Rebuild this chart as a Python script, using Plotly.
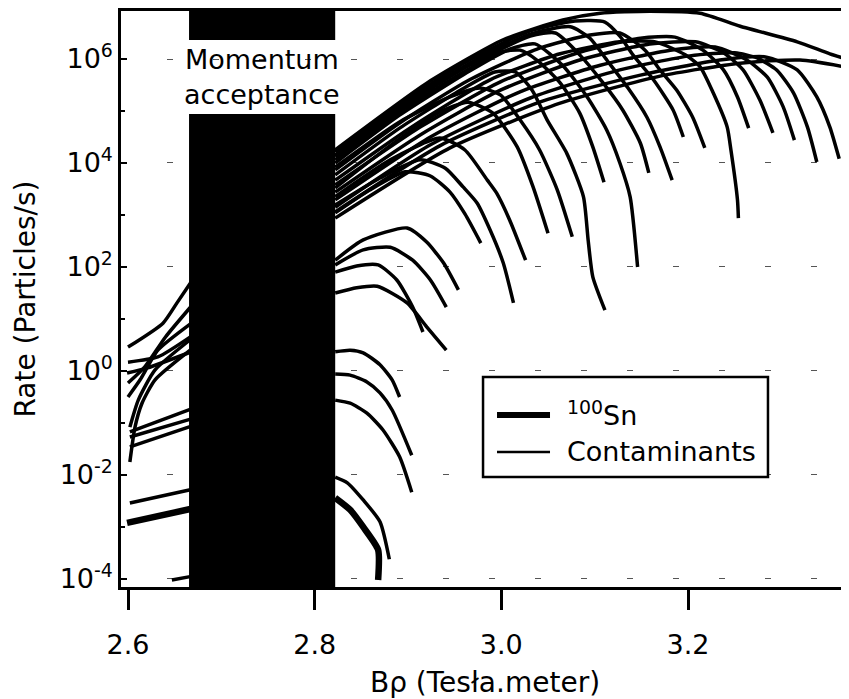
import plotly.graph_objects as go

# B-rho (T) and log10 of the rate (particles/s)

# 100Sn (thick), the part left of the acceptance window and the part right of it
sn_left_x = [2.599, 2.668]
sn_left_lograte = [-2.92, -2.65]
sn_right_x = [2.822, 2.838, 2.852, 2.868, 2.868]
sn_right_lograte = [-2.44, -2.67, -3.00, -3.44, -4.02]

# contaminants, short pieces left of the window
left_x = [
    [2.600, 2.6375, 2.6525, 2.668],
    [2.600, 2.632, 2.668],
    [2.599, 2.621, 2.668],
    [2.600, 2.618, 2.640, 2.668],
    [2.600, 2.613, 2.632, 2.668],
    [2.602, 2.611, 2.629, 2.668],
    [2.602, 2.6075, 2.615, 2.629, 2.668],
    [2.602, 2.668],
    [2.602, 2.668],
    [2.602, 2.668],
    [2.602, 2.668],
    [2.647, 2.668],
]
left_lograte = [
    [0.46, 0.92, 1.31, 1.72],
    [0.17, 0.27, 0.67],
    [-0.04, 0.06, 0.37],
    [-0.23, 0.08, 0.65, 1.25],
    [-0.50, -0.17, 0.40, 0.92],
    [-1.08, -0.56, 0.02, 0.62],
    [-1.75, -1.08, -0.62, -0.17, 0.42],
    [-1.17, -0.73],
    [-1.27, -0.92],
    [-1.46, -1.06],
    [-2.54, -2.28],
    [-4.02, -3.95],
]

# contaminants right of the window
right_x = [
    [2.822, 2.838, 2.852, 2.870, 2.883, 2.891],
    [2.822, 2.838, 2.856, 2.870, 2.883, 2.904],
    [2.822, 2.838, 2.856, 2.873, 2.891, 2.904],
    [2.822, 2.835, 2.852, 2.870, 2.880],
    [2.822, 2.845, 2.867, 2.899, 2.920, 2.941],
    [2.822, 2.845, 2.868, 2.888, 2.905, 2.916],
    [2.822, 2.852, 2.881, 2.905, 2.924, 2.941],
    [2.822, 2.852, 2.899, 2.920, 2.938, 2.954],
    [2.822, 2.859, 2.897, 2.924, 2.945, 2.961, 2.978],
    [2.822, 2.870, 2.913, 2.940, 2.959, 2.974, 2.988, 3.002, 3.013],
    [2.822, 2.881, 2.934, 2.961, 2.985, 2.995, 3.009, 3.026],
    [2.822, 2.886, 2.934, 2.964, 2.991, 3.017, 3.034, 3.050],
    [2.822, 2.891, 2.945, 2.977, 2.999, 3.020, 3.041, 3.060, 3.076],
    [2.822, 2.891, 2.956, 2.999, 3.020, 3.038, 3.063, 3.084, 3.098, 3.110],
    [2.822, 2.891, 2.956, 2.993, 3.015, 3.033, 3.049, 3.070, 3.088, 3.093, 3.098, 3.111],
    [2.822, 2.891, 2.966, 3.009, 3.036, 3.066, 3.092, 3.113, 3.127, 3.138, 3.146],
    [2.822, 2.891, 2.966, 3.031, 3.058, 3.084, 3.109, 3.130, 3.149, 3.158],
    [2.822, 2.891, 2.966, 3.031, 3.074, 3.095, 3.113, 3.135, 3.156, 3.170, 3.183],
    [2.822, 2.891, 2.966, 3.031, 3.079, 3.111, 3.127, 3.141, 3.163, 3.184, 3.195],
    [2.822, 2.924, 3.002, 3.066, 3.106, 3.159, 3.213, 3.256, 3.317, 3.352, 3.380],
    [2.822, 2.891, 2.966, 3.041, 3.095, 3.127, 3.154, 3.170, 3.188, 3.205, 3.218],
    [2.822, 2.902, 2.988, 3.063, 3.127, 3.165, 3.197, 3.213, 3.227, 3.242, 3.246, 3.253, 3.254],
    [2.822, 2.913, 2.999, 3.084, 3.149, 3.186, 3.216, 3.238, 3.253, 3.265],
    [2.822, 2.913, 2.999, 3.084, 3.159, 3.208, 3.238, 3.259, 3.277, 3.291],
    [2.822, 2.924, 3.020, 3.106, 3.181, 3.229, 3.263, 3.285, 3.302, 3.314],
    [2.822, 2.924, 3.031, 3.127, 3.202, 3.250, 3.274, 3.295, 3.313, 3.328, 3.338],
    [2.822, 2.934, 3.041, 3.149, 3.234, 3.283, 3.317, 3.338, 3.352, 3.362],
    [2.822, 2.945, 3.063, 3.170, 3.256, 3.320, 3.380],
]
right_lograte = [
    [0.37, 0.40, 0.35, 0.12, -0.17, -0.50],
    [-0.06, -0.08, -0.21, -0.42, -0.75, -1.62],
    [-0.56, -0.62, -0.81, -1.13, -1.65, -2.33],
    [-2.04, -2.15, -2.48, -2.90, -3.62],
    [1.50, 1.60, 1.63, 1.31, 0.85, 0.40],
    [1.90, 2.02, 2.04, 1.75, 1.23, 0.75],
    [2.04, 2.33, 2.38, 2.13, 1.75, 1.23],
    [2.13, 2.52, 2.75, 2.48, 2.08, 1.56],
    [3.04, 3.48, 3.83, 3.75, 3.44, 3.02, 2.46],
    [3.19, 3.71, 4.06, 3.90, 3.54, 3.23, 2.71, 2.08, 1.31],
    [3.35, 4.06, 4.48, 4.25, 3.67, 3.42, 2.90, 2.13],
    [3.52, 4.40, 4.98, 5.17, 4.96, 4.31, 3.54, 2.65],
    [3.92, 4.79, 5.27, 5.44, 5.31, 4.83, 4.25, 3.48, 2.58],
    [4.06, 4.98, 5.71, 6.13, 6.17, 5.98, 5.54, 4.96, 4.31, 3.63],
    [3.77, 4.67, 5.40, 5.75, 5.75, 5.40, 4.83, 4.19, 3.35, 2.52, 1.81, 1.17],
    [4.00, 4.92, 5.77, 6.19, 6.29, 5.87, 5.27, 4.63, 4.00, 3.35, 2.00],
    [4.12, 5.04, 5.88, 6.44, 6.50, 6.08, 5.54, 5.02, 4.38, 3.81],
    [4.15, 5.08, 5.92, 6.48, 6.62, 6.40, 5.98, 5.46, 4.88, 4.31, 3.67],
    [4.21, 5.13, 5.98, 6.54, 6.73, 6.71, 6.44, 6.08, 5.60, 5.02, 4.50],
    [4.25, 5.58, 6.37, 6.75, 6.88, 6.92, 6.88, 6.63, 6.33, 6.10, 5.94],
    [3.87, 4.77, 5.60, 6.21, 6.46, 6.50, 6.17, 5.79, 5.40, 4.88, 4.29],
    [3.67, 4.67, 5.60, 6.10, 6.33, 6.33, 6.08, 5.85, 5.35, 4.69, 4.25, 3.29, 2.94],
    [3.58, 4.69, 5.56, 6.13, 6.40, 6.42, 6.17, 5.79, 5.27, 4.67],
    [3.44, 4.54, 5.40, 5.98, 6.29, 6.33, 6.12, 5.79, 5.21, 4.58],
    [3.29, 4.50, 5.37, 5.88, 6.17, 6.23, 5.98, 5.65, 5.08, 4.44],
    [3.15, 4.35, 5.25, 5.79, 6.06, 6.12, 6.02, 5.79, 5.35, 4.69, 4.02],
    [3.06, 4.33, 5.17, 5.69, 5.98, 6.04, 5.79, 5.27, 4.69, 4.08],
    [2.94, 4.29, 5.15, 5.67, 5.92, 5.98, 5.81],
]

# momentum acceptance window (T) and the gap kept for its label (log10 rate)
window_x = [2.6654, 2.822]
label_gap = [4.94, 6.365]

decades = [-4, -2, 0, 2, 4, 6]
decade_labels = ['10<sup>%d</sup>' % d for d in decades]
odd_decades = [-3, -1, 1, 3, 5]

FONT = 'DejaVu Sans'
thin = dict(color='black', width=3.5, shape='spline', smoothing=0.6)
thick = dict(color='black', width=6.5, shape='spline', smoothing=0.6)

fig = go.Figure()

for xs, ys in zip(left_x + right_x, left_lograte + right_lograte):
    fig.add_trace(go.Scatter(x=xs, y=ys, mode='lines', line=thin,
                             name='Contaminants', showlegend=False,
                             hoverinfo='skip'))

for xs, ys in [(sn_left_x, sn_left_lograte), (sn_right_x, sn_right_lograte)]:
    fig.add_trace(go.Scatter(x=xs, y=ys, mode='lines', line=thick,
                             name='100Sn', showlegend=False,
                             hoverinfo='skip'))

# black acceptance band, with a white gap for the text
fig.add_shape(type='rect', xref='x', yref='y', x0=window_x[0], x1=window_x[1],
              y0=-4.154, y1=label_gap[0], fillcolor='black', line_width=0, layer='above')
fig.add_shape(type='rect', xref='x', yref='y', x0=window_x[0], x1=window_x[1],
              y0=label_gap[1], y1=6.923, fillcolor='black', line_width=0, layer='above')
fig.add_annotation(x=sum(window_x) / 2, y=sum(label_gap) / 2, xref='x', yref='y',
                   text='Momentum<br>acceptance', showarrow=False,
                   font=dict(family=FONT, size=27, color='black'))

# legend box
fig.add_shape(type='rect', xref='paper', yref='paper', x0=0.4973, x1=0.8887,
              y0=0.191, y1=0.3646, line=dict(color='black', width=2.5),
              fillcolor='white', layer='above')
fig.add_shape(type='line', xref='paper', yref='paper', x0=0.5165, x1=0.5893,
              y0=0.2986, y1=0.2986, line=dict(color='black', width=6), layer='above')
fig.add_shape(type='line', xref='paper', yref='paper', x0=0.5165, x1=0.5893,
              y0=0.2344, y1=0.2344, line=dict(color='black', width=2.5), layer='above')
fig.add_annotation(x=0.6099, y=0.302, xref='paper', yref='paper', xanchor='left',
                   yanchor='middle', text='<sup>100</sup>Sn', showarrow=False,
                   font=dict(family=FONT, size=27, color='black'))
fig.add_annotation(x=0.6099, y=0.2344, xref='paper', yref='paper', xanchor='left',
                   yanchor='middle', text='Contaminants', showarrow=False,
                   font=dict(family=FONT, size=27, color='black'))

# page keeps an 8px body margin, so the figure is shrunk by that much
fig.update_layout(
    width=841, height=691,
    margin=dict(l=113, r=0, t=3, b=112),
    plot_bgcolor='white', paper_bgcolor='white',
    font=dict(family=FONT, size=27, color='black'),
    showlegend=False,
)
fig.update_xaxes(
    range=[2.5925, 3.3725],
    tickvals=[2.6, 2.8, 3.0, 3.2], tickformat='.1f',
    ticks='outside', ticklen=20, tickwidth=2.5, tickcolor='black',
    ticklabelstandoff=12,
    showline=True, linewidth=2.5, linecolor='black', mirror=True,
    showgrid=False, zeroline=False,
    title=dict(text='B\u03c1 (Tes\u0142a.meter)', standoff=14,
               font=dict(family=FONT, size=28)),
)
fig.update_yaxes(
    range=[-4.154, 6.923],
    tickvals=decades, ticktext=decade_labels,
    ticks='inside', ticklen=6, tickwidth=1.5, tickcolor='black',
    minor=dict(tickvals=odd_decades, ticks='inside', ticklen=4, tickcolor='black'),
    showline=True, linewidth=2.5, linecolor='black',
    showgrid=True, gridcolor='#555555', gridwidth=1, griddash='6px,40px',
    zeroline=False,
    title=dict(text='Rate (Particles/s)', standoff=16,
               font=dict(family=FONT, size=28)),
)

fig.write_html('out.html')
